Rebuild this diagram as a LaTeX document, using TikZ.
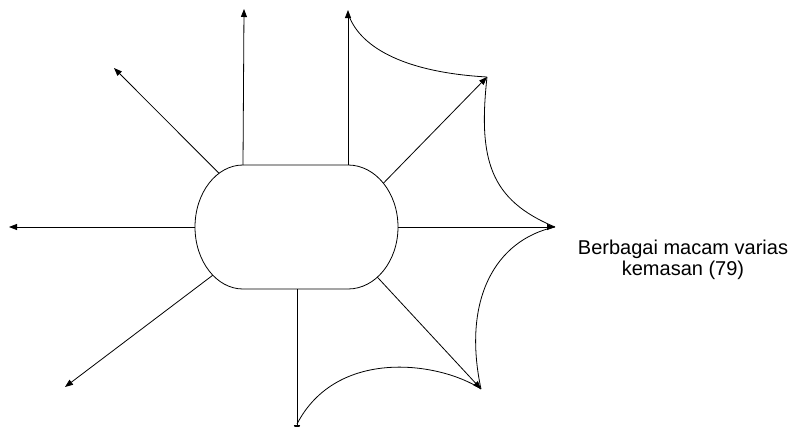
\documentclass[tikz,border=0pt]{standalone}
\usepackage{fontspec}
\setmainfont{Liberation Sans}
\usetikzlibrary{arrows.meta}
\tikzset{
  ray/.style={draw=black, line width=0.8pt, -{Triangle[length=8pt,width=6pt]}},
  curv/.style={draw=black, line width=0.8pt},
  hubline/.style={draw=black, line width=0.8pt},
  lbl/.style={font=\fontsize{20pt}{21pt}\selectfont, align=center, inner sep=0pt}
}
\begin{document}
\begin{tikzpicture}[x=1pt,y=-1pt]
\useasboundingbox (0,0) rectangle (801,426);
\clip (0,0) rectangle (801,426);
% hub shape
\coordinate (tl) at (243,165);
\coordinate (tr) at (348,165);
\coordinate (bl) at (243,289);
\coordinate (br) at (348,289);
\draw[hubline] (tl) -- (tr) arc[start angle=90,end angle=-90,x radius=50pt,y radius=62pt]
  -- (bl) arc[start angle=-90,end angle=-270,x radius=48pt,y radius=62pt] -- cycle;
% anchors on hub
\coordinate (hL) at (195,227);
\coordinate (hR) at (398,227);
\coordinate (hUL) at (219,173.3);
\coordinate (hLL) at (212.8,275.2);
\coordinate (hB) at (297,289);
\coordinate (hLR) at (377.4,277.2);
\coordinate (hUR) at (383.4,183.2);
% tips
\coordinate (tT1) at (244,9);
\coordinate (tT2) at (348,10);
\coordinate (tUL) at (114,68);
\coordinate (tL) at (9,227);
\coordinate (tLL) at (65,387);
\coordinate (tB) at (297,433);
\coordinate (tLR) at (481,389);
\coordinate (tR) at (555,227);
\coordinate (tUR) at (487,77);
% rays
\draw[ray] (tl) -- (tT1);
\draw[ray] (tr) -- (tT2);
\draw[ray] (hUL) -- (tUL);
\draw[ray] (hL) -- (tL);
\draw[ray] (hLL) -- (tLL);
\draw[ray] (hB) -- (tB);
\draw[ray] (hLR) -- (tLR);
\draw[ray] (hR) -- (tR);
\draw[ray] (hUR) -- (tUR);
% concave curves
\coordinate (cT) at (348,13);
\coordinate (cB) at (297,424);
\draw[curv] (cT) .. controls (358,45) and (400,72) .. (tUR);
\draw[curv] (tUR) .. controls (478,160) and (490,200) .. (tR);
\draw[curv] (tR) .. controls (495,240) and (462,300) .. (tLR);
\draw[curv] (tLR) .. controls (440,362) and (337,347) .. (cB);
% label
\node[lbl, anchor=north] (label) at (683,240) {Berbagai macam varias\\kemasan (79)};
\end{tikzpicture}
\end{document}
